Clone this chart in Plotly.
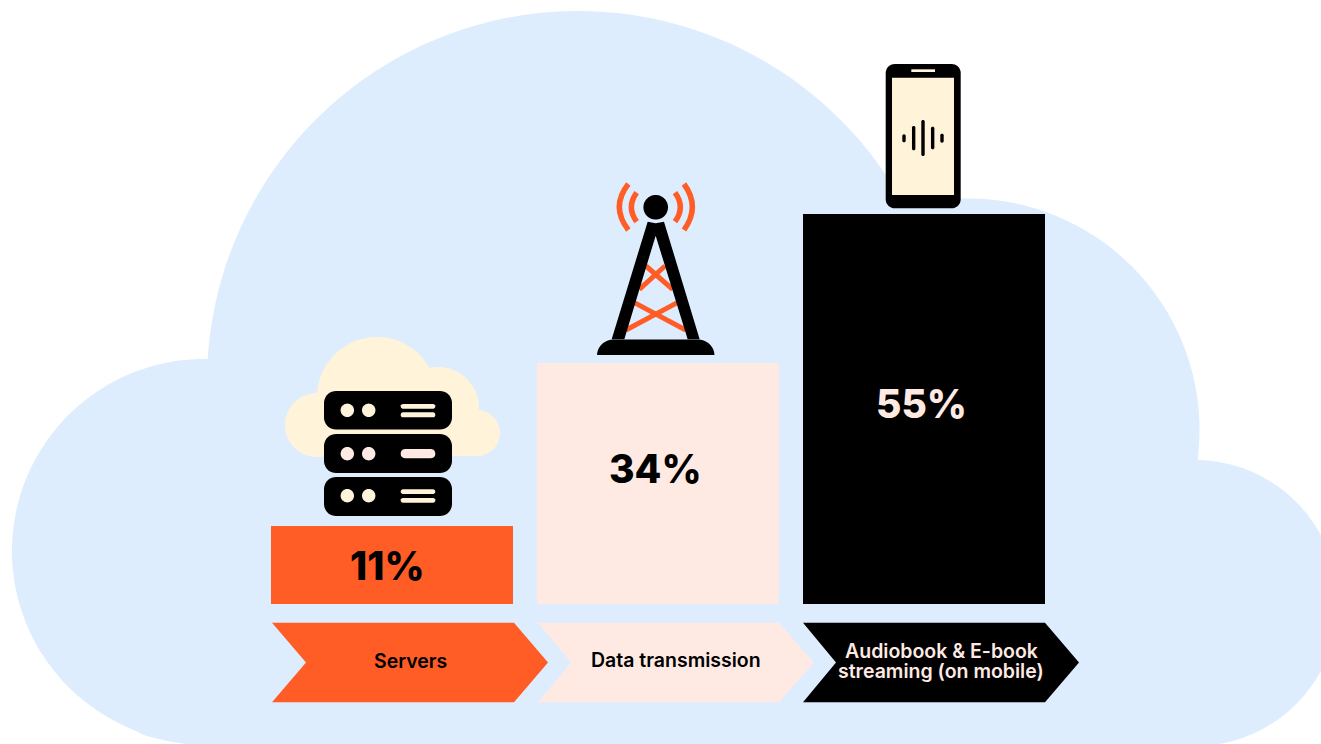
import numpy as np
import plotly.graph_objects as go

# ---- data ----
categories = ["Servers", "Data transmission", "Audiobook & E-book<br>streaming (on mobile)"]
shares = [11, 34, 55]
bar_colors = ["#FF5C26", "#FFEAE3", "#000000"]
label_colors = ["#000000", "#000000", "#FFEAE3"]

W, H = 1321, 744
BLUE, CREAM, PINK, ORANGE, BLACK = "#DEEDFD", "#FFF3D9", "#FFEAE3", "#FF5C26", "#000000"
FONT = "Inter"

def px(x): return x / W
def py(y): return 1 - y / H

def poly(points):
    return "M" + " L".join(f"{px(x):.5f},{py(y):.5f}" for x, y in points) + " Z"

def circle_pts(cx, cy, r, n=180):
    t = np.linspace(0, 2 * np.pi, n, endpoint=False)
    return list(zip(cx + r * np.cos(t), cy + r * np.sin(t)))

def rrect_pts(x0, y0, x1, y1, r, n=10):
    pts = []
    for cx, cy, a0 in [(x1 - r, y0 + r, -90), (x1 - r, y1 - r, 0), (x0 + r, y1 - r, 90), (x0 + r, y0 + r, 180)]:
        for a in np.radians(np.linspace(a0, a0 + 90, n)):
            pts.append((cx + r * np.cos(a), cy + r * np.sin(a)))
    return pts

shapes = []
def fill(points, color, layer="above"):
    shapes.append(dict(type="path", xref="paper", yref="paper", path=poly(points),
                       fillcolor=color, line=dict(width=0), layer=layer))

def stroke_q(p0, c, p1, color, width):
    path = (f"M{px(p0[0]):.5f},{py(p0[1]):.5f} Q{px(c[0]):.5f},{py(c[1]):.5f} "
            f"{px(p1[0]):.5f},{py(p1[1]):.5f}")
    shapes.append(dict(type="path", xref="paper", yref="paper", path=path,
                       line=dict(color=color, width=width), layer="above"))

def stroke_l(p0, p1, color, width):
    path = f"M{px(p0[0]):.5f},{py(p0[1]):.5f} L{px(p1[0]):.5f},{py(p1[1]):.5f}"
    shapes.append(dict(type="path", xref="paper", yref="paper", path=path,
                       line=dict(color=color, width=width), layer="above"))

# ---- background cloud ----
for cx, cy, r in [(578, 382, 371), (204, 551, 192), (968, 430, 231.5), (1195, 603, 143)]:
    fill(circle_pts(cx, cy, r, 360), BLUE, "below")
fill([(200, 400), (1195, 400), (1195, 744), (185, 744), (167, 741), (145, 735.5), (123, 725), (200, 600)], BLUE, "below")

# ---- server icon ----
for cx, cy, r in [(377, 397, 60), (438, 408, 41), (317, 425, 32), (477, 433, 23)]:
    fill(circle_pts(cx, cy, r), CREAM)
fill([(317, 400), (477, 400), (477, 456), (317, 456)], CREAM)
for y0, y1 in [(391, 429.5), (434, 473), (477, 516)]:
    fill(rrect_pts(324, y0, 452, y1, 12), BLACK)
for cy, color in [(410.3, CREAM), (453.7, PINK), (495.7, CREAM)]:
    fill(circle_pts(347.3, cy, 6.7, 40), color)
    fill(circle_pts(368.7, cy, 6.7, 40), color)
for y0, y1 in [(404, 408.7), (412.3, 417.3), (489.3, 494), (498, 502.7)]:
    fill(rrect_pts(400.7, y0, 435.3, y1, 2.2, 5), CREAM)
fill(rrect_pts(400.7, 449, 435.3, 458.3, 4.5, 6), PINK)

# ---- tower icon ----
def tw(cx, cy):
    return (590 + cx / 3, 170 + cy / 3)
for a, b in [((168, 288), (248, 358)), ((225, 288), (148, 358)),
             ((133, 398), (287, 480)), ((262, 398), (108, 480))]:
    stroke_l(tw(*a), tw(*b), ORANGE, 5)
fill([tw(*p) for p in [(173, 155), (197, 160), (222, 155), (329, 508), (293, 508), (197, 197), (103, 508), (65, 508)]], BLACK)
fill(circle_pts(655.7, 207.3, 12.3, 60), BLACK)
base = [(597, 355), (714.5, 355)]
for a in np.radians(np.linspace(0, 90, 10)):
    base.append((698 + 16.5 * np.cos(a), 355.5 - 16 * np.sin(a)))
for a in np.radians(np.linspace(90, 180, 10)):
    base.append((613.5 + 16.5 * np.cos(a), 355.5 - 16 * np.sin(a)))
fill(base, BLACK)
for p0, c, p1 in [((115, 42), (61, 110), (115, 180)), ((140, 68), (108, 112), (140, 155)),
                  ((282, 42), (332, 110), (282, 180)), ((255, 68), (287, 112), (255, 155))]:
    stroke_q(tw(*p0), tw(*c), tw(*p1), ORANGE, 5.5)

# ---- phone icon ----
fill(rrect_pts(885.7, 64, 960.7, 208.3, 9), BLACK)
fill([(892, 77.7), (954, 77.7), (954, 195), (892, 195)], CREAM)
fill([(911.3, 69.3), (935, 69.3), (935, 72), (911.3, 72)], CREAM)
for cx, y0, y1 in [(102, 238, 262), (131, 213, 286), (159, 195, 303), (188, 215, 283), (216, 236, 263)]:
    x = 870 + cx / 3
    fill(rrect_pts(x - 1.7, 55 + y0 / 3, x + 1.7, 55 + y1 / 3, 1.6, 5), BLACK)

# ---- category chevrons ----
for (x0, x1, tip, notch), color in zip([(272, 514, 548, 306), (538, 779, 813.7, 571), (803, 1045, 1079, 836)], bar_colors):
    fill([(x0, 622.7), (x1, 622.7), (tip, 662.4), (x1, 702.3), (x0, 702.3), (notch, 662.4)], color)

# ---- bars ----
fig = go.Figure(go.Bar(x=[0, 1, 2], y=shares, marker=dict(color=bar_colors, line=dict(width=0)),
                       width=242 / 266, hoverinfo="skip"))

annotations = []
for cat, color, x, y, val, vx, vy in zip(
        categories, label_colors, [410, 675.5, 941], [661, 660, 661],
        shares, [387, 655, 921.5], [565, 468, 403]):
    lines = cat.split("<br>")
    for i, line in enumerate(lines):
        annotations.append(dict(xref="paper", yref="paper", x=px(x),
                                y=py(y + (i - (len(lines) - 1) / 2) * 20), text=line, showarrow=False,
                                xanchor="center", yanchor="middle", align="center",
                                font=dict(family=FONT, size=19.5, color=color, weight=600)))
    annotations.append(dict(xref="paper", yref="paper", x=px(vx), y=py(vy), text=f"{val}%", showarrow=False,
                            xanchor="center", yanchor="middle",
                            font=dict(family=FONT, size=39, color=color, weight=800)))

fig.update_layout(
    width=W, height=H, autosize=False,
    margin=dict(l=0, r=0, t=0, b=0, pad=0),
    paper_bgcolor="white", plot_bgcolor="rgba(0,0,0,0)",
    showlegend=False,
    xaxis=dict(domain=[259 / W, 1057 / W], range=[-0.5, 2.5], visible=False, fixedrange=True),
    yaxis=dict(domain=[(H - 604) / H, (H - 604 + 60 * 7.09) / H], range=[0, 60], visible=False, fixedrange=True),
    shapes=shapes, annotations=annotations,
)
fig.write_html("out.html", config=dict(displayModeBar=False),
               post_script="document.body.style.margin='0';document.documentElement.style.overflow='hidden';")
